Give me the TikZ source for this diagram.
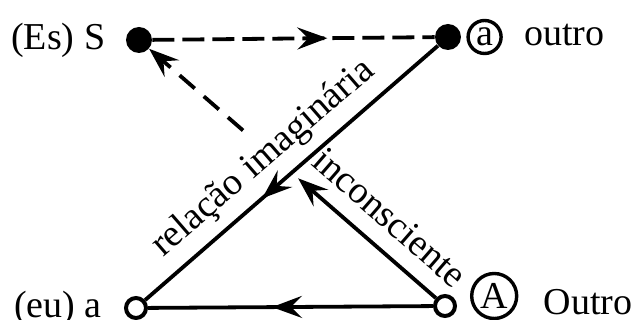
\documentclass[tikz,border=0pt]{standalone}
\usepackage{fontspec}
\setmainfont{Liberation Serif}
\usetikzlibrary{positioning, arrows.meta, calc, decorations.markings}

\begin{document}
\begin{tikzpicture}[
    x=0.5pt, y=-0.5pt,
    >={Stealth[length=15pt, width=11pt, inset=5.5pt]},
    fulldot/.style={circle, fill=black, inner sep=0pt, minimum size=13pt},
    opendot/.style={circle, draw=black, fill=white, line width=2pt, inner sep=0pt, minimum size=10pt},
    lbl/.style={font=\fontsize{19}{22}\selectfont, inner sep=0pt},
    ring/.style={circle, draw=black, line width=1.7pt, inner sep=0pt, font=\fontsize{19}{22}\selectfont},
    rel/.style={line width=1.9pt},
    dashrel/.style={rel, dash pattern=on 11pt off 4pt},
    midarrow/.style={postaction={decorate}, decoration={markings, mark=at position #1 with {\arrow{>}}}},
    slant/.style={lbl, sloped, above, inner sep=5pt}
  ]
    \useasboundingbox (0,0) rectangle (634,320);

    % the four places of the schema
    \node[fulldot] (S) at (139,40) {};
    \node[fulldot] (a) at (448,37) {};
    \node[opendot] (eu) at (136,308) {};
    \node[opendot] (A) at (445,306) {};

    \node[lbl, left=10pt of S] (Slbl) {(Es) S};
    \node[ring, minimum size=16.5pt, right=2.5pt of a] (aring) {a};
    \node[lbl, base right=10.5pt of aring] (albl) {outro};
    \node[lbl, left=11pt of eu] (eulbl) {(eu) a};
    \node[ring, minimum size=22.5pt, right=6.5pt of A, yshift=5pt] (Aring) {A};
    \node[lbl, base right=12.5pt of Aring, yshift=-3pt] (Albl) {Outro};

    \draw[dashrel, midarrow=0.62] (S) -- (a);
    \draw[rel, midarrow=0.6] (a) -- (eu) node[slant, pos=0.53] {relação imaginária};
    \draw[rel, midarrow=0.565] (A) -- (eu);

    % A -> S is cut where it crosses the imaginary axis
    \coordinate (m1) at ($(A)!0.48!(S)$);
    \coordinate (m2) at ($(A)!0.66!(S)$);
    \draw[rel, ->] (A) -- (m1) node[slant, pos=0.48, inner sep=8pt] {inconsciente};
    \draw[rel, dash pattern=on 10pt off 6pt, ->] (m2) -- (S);
\end{tikzpicture}
\end{document}
